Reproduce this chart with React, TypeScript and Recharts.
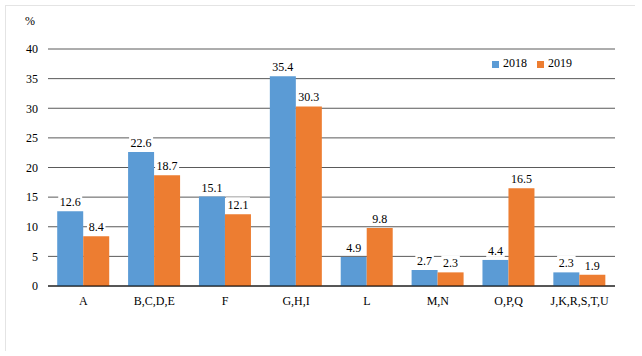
import React from 'react';
import { BarChart, Bar, XAxis, YAxis, CartesianGrid, Legend, LabelList } from 'recharts';

const categories = ['A', 'B,C,D,E', 'F', 'G,H,I', 'L', 'M,N', 'O,P,Q', 'J,K,R,S,T,U'];
const values2018 = [12.6, 22.6, 15.1, 35.4, 4.9, 2.7, 4.4, 2.3];
const values2019 = [8.4, 18.7, 12.1, 30.3, 9.8, 2.3, 16.5, 1.9];
const yTicks = [0, 5, 10, 15, 20, 25, 30, 35, 40];

const data = categories.map((c, i) => ({ name: c, y2018: values2018[i], y2019: values2019[i] }));

const FONT = "'Liberation Serif', 'DejaVu Serif', 'Times New Roman', serif";

const ValueLabel = (props: any) => {
  const { x, y, width, value } = props;
  const txt = Number(value).toFixed(1);
  const w = txt.length * 5.5 + 2;
  const cx = x + width / 2;
  return (
    <g>
      <rect x={cx - w / 2} y={y - 17} width={w} height={14} fill="#ffffff" />
      <text x={cx} y={y - 5} textAnchor="middle" fontFamily={FONT} fontSize={12} fill="#000">
        {txt}
      </text>
    </g>
  );
};

export default function App() {
  return (
    <div style={{ position: 'absolute', left: 0, top: 0, width: 642, height: 356, background: '#fff', fontFamily: FONT }}>
      <div style={{ position: 'absolute', left: 5, top: 5, width: 629, height: 345, borderTop: '1px solid #e4e4e4', borderLeft: '1px solid #e4e4e4' }} />
      <span style={{ position: 'absolute', left: 25, top: 14, fontSize: 12, color: '#000', fontFamily: FONT }}>%</span>
      <BarChart
        width={642}
        height={356}
        data={data}
        margin={{ top: 49, right: 27, bottom: 40, left: 0 }}
        barCategoryGap="13%"
        barGap={0}
        style={{ fontFamily: FONT }}
      >
        <CartesianGrid vertical={false} stroke="#5a5a5a" strokeWidth={1} />
        <XAxis
          dataKey="name"
          tickLine={false}
          axisLine={{ stroke: '#000' }}
          tick={{ fontSize: 12, fill: '#000', fontFamily: FONT }}
          interval={0}
          height={30}
          tickMargin={4}
        />
        <YAxis
          domain={[0, 40]}
          ticks={yTicks}
          width={48}
          tickLine={false}
          axisLine={false}
          tick={{ fontSize: 12, fill: '#000', fontFamily: FONT }}
          tickMargin={4}
        />
        <Legend
          verticalAlign="middle"
          align="center"
          iconType="square"
          iconSize={7}
          wrapperStyle={{ top: 56, left: 482, width: 110, fontFamily: FONT, fontSize: 12 }}
          formatter={(v: string) => <span style={{ color: '#000', fontFamily: FONT }}>{v}</span>}
        />
        <Bar dataKey="y2018" name="2018" fill="#5B9BD5" isAnimationActive={false}>
          <LabelList dataKey="y2018" content={ValueLabel} />
        </Bar>
        <Bar dataKey="y2019" name="2019" fill="#ED7D31" isAnimationActive={false}>
          <LabelList dataKey="y2019" content={ValueLabel} />
        </Bar>
      </BarChart>
    </div>
  );
}
